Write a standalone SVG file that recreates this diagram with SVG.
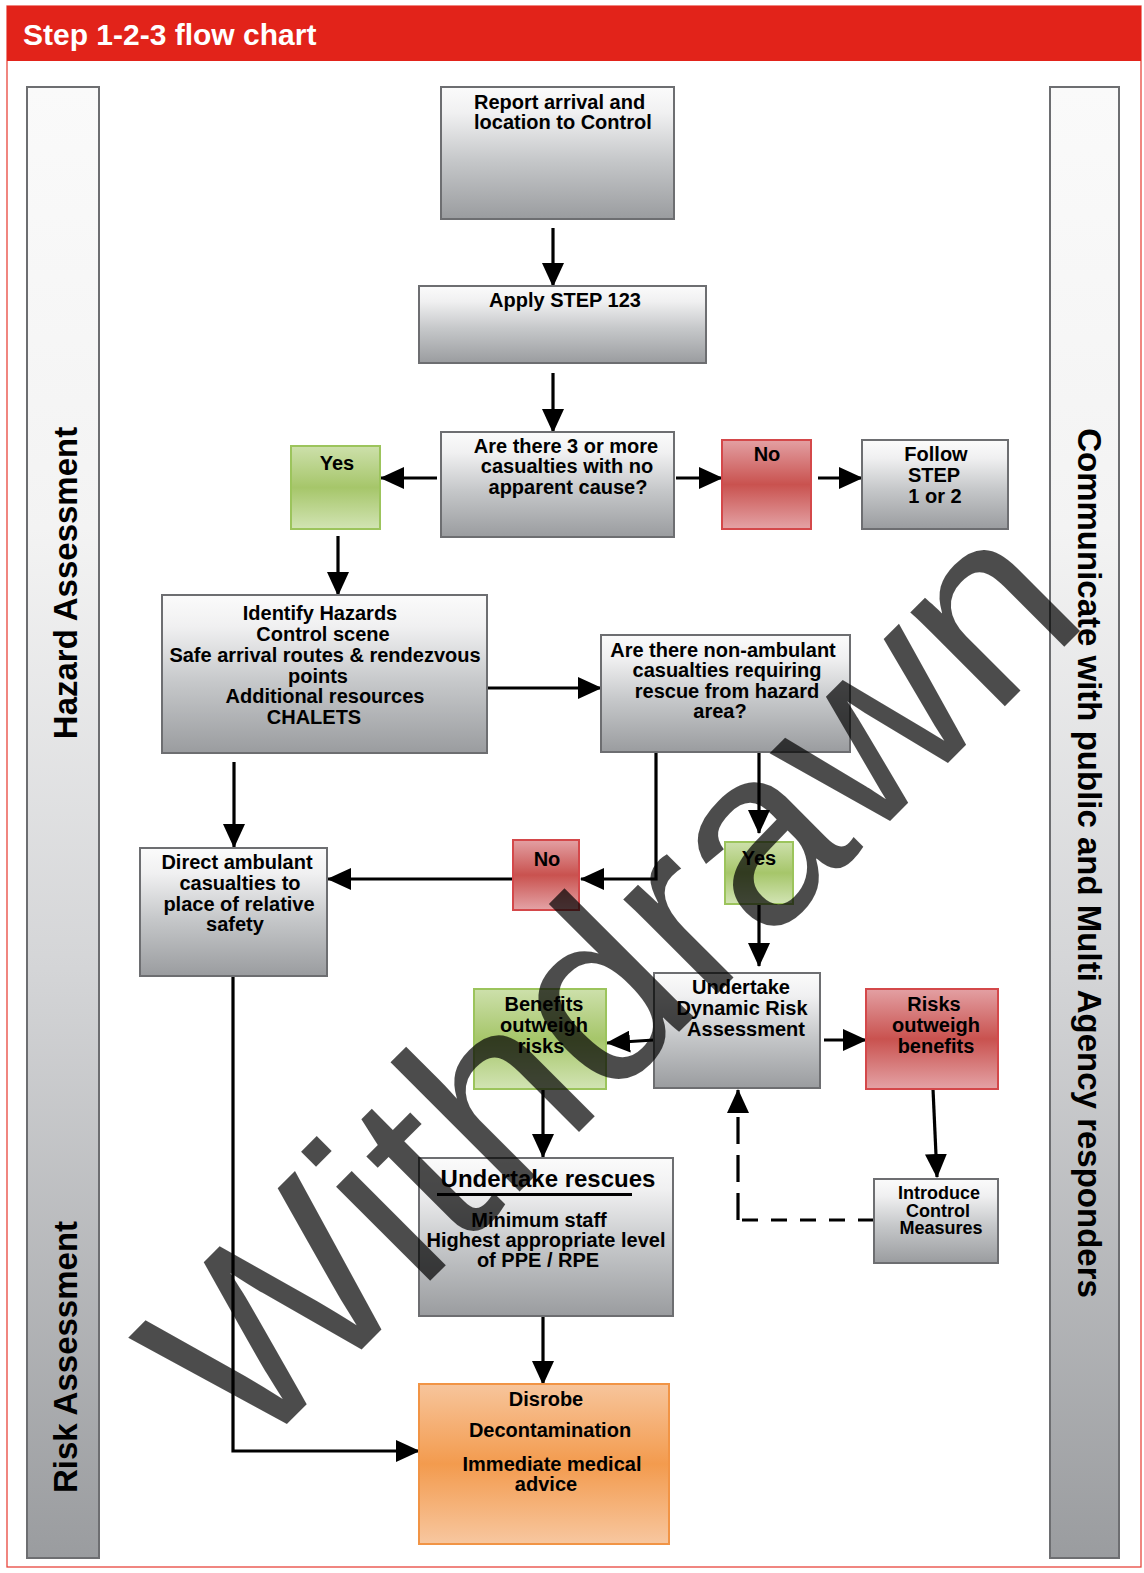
<svg xmlns="http://www.w3.org/2000/svg" width="1144" height="1573" viewBox="0 0 1144 1573">
<defs>
<linearGradient id="gGrey" x1="0" y1="0" x2="0" y2="1">
<stop offset="0" stop-color="#fbfbfb"/><stop offset="0.2" stop-color="#f0f0f1"/><stop offset="0.55" stop-color="#c6c8ca"/><stop offset="1" stop-color="#9a9c9f"/>
</linearGradient>
<linearGradient id="gBar" x1="0" y1="0" x2="0" y2="1">
<stop offset="0" stop-color="#fafafa"/><stop offset="0.3" stop-color="#f3f3f3"/><stop offset="0.6" stop-color="#d4d5d7"/><stop offset="1" stop-color="#9a9c9f"/>
</linearGradient>
<linearGradient id="gGreen" x1="0" y1="0" x2="0" y2="1">
<stop offset="0" stop-color="#cde0ab"/><stop offset="0.5" stop-color="#a6c66a"/><stop offset="1" stop-color="#d2e4b4"/>
</linearGradient>
<linearGradient id="gRed" x1="0" y1="0" x2="0" y2="1">
<stop offset="0" stop-color="#e3a0a3"/><stop offset="0.5" stop-color="#c9524f"/><stop offset="1" stop-color="#e4a3a6"/>
</linearGradient>
<linearGradient id="gOrange" x1="0" y1="0" x2="0" y2="1">
<stop offset="0" stop-color="#f7c59c"/><stop offset="0.5" stop-color="#f39b4e"/><stop offset="1" stop-color="#f7c7a0"/>
</linearGradient>
<marker id="ah" markerUnits="userSpaceOnUse" markerWidth="24" markerHeight="22" viewBox="0 0 24 22" refX="23" refY="11" orient="auto">
<path d="M0,0 L24,11 L0,22 z" fill="#000"/>
</marker>
</defs>
<style>
.t{font-family:"Liberation Sans",Arial,Helvetica,sans-serif;font-weight:bold;font-size:20px;fill:#000;text-anchor:middle}
.side{font-family:"Liberation Sans",Arial,Helvetica,sans-serif;font-weight:bold;font-size:33px;fill:#000;text-anchor:middle}
.grey{fill:url(#gGrey);stroke:#6d6e71;stroke-width:2}
.bar{fill:url(#gBar);stroke:#6d6e71;stroke-width:2}
.green{fill:url(#gGreen);stroke:#9cc45c;stroke-width:2}
.red{fill:url(#gRed);stroke:#d4484a;stroke-width:2}
.orange{fill:url(#gOrange);stroke:#f19445;stroke-width:2}
.c{fill:none;stroke:#000;stroke-width:3.2;marker-end:url(#ah)}
</style>
<rect x="0" y="0" width="1144" height="1573" fill="#fff"/>
<g id="frame">
<rect x="7" y="6" width="1134" height="1561" fill="none" stroke="#e8453c" stroke-width="1.3"/>
<rect x="7" y="6" width="1134" height="55" fill="#e2231a"/>
<text x="23" y="45" style="font-family:'Liberation Sans',Arial,sans-serif;font-weight:bold;font-size:30px;fill:#fff">Step 1-2-3 flow chart</text>
</g>
<g id="bar-left">
<rect class="bar" x="27" y="87" width="72" height="1471"/>
<text class="side" transform="translate(77,583) rotate(-90)">Hazard Assessment</text>
<text class="side" transform="translate(77,1357) rotate(-90)">Risk Assessment</text>
</g>
<g id="bar-right">
<rect class="bar" x="1050" y="87" width="69" height="1471"/>
<text class="side" transform="translate(1078,863) rotate(90)">Communicate with public and Multi Agency responders</text>
</g>
<g id="connectors">
<path class="c" d="M553,228 V286"/>
<path class="c" d="M553,373 V432"/>
<path class="c" d="M437,478 H381"/>
<path class="c" d="M676,478 H722"/>
<path class="c" d="M818,478 H862"/>
<path class="c" d="M338,536 V595"/>
<path class="c" d="M488,688 H601"/>
<path class="c" d="M656,752 V879 H581"/>
<path class="c" d="M512,879 H328"/>
<path class="c" d="M759,752 V833"/>
<path class="c" d="M759,904 V966"/>
<path class="c" d="M234,762 V847"/>
<path class="c" d="M233,976 V1451 H419"/>
<path class="c" d="M654,1040 L607,1043"/>
<path class="c" d="M824,1040 H866"/>
<path class="c" d="M933,1089 L937,1177"/>
<path class="c" d="M543,1089 V1157"/>
<path class="c" d="M543,1316 V1384"/>
<path d="M874,1220 H738" fill="none" stroke="#000" stroke-width="3.2" stroke-dasharray="16,13"/>
<path class="c" d="M738,1220 V1090" stroke-dasharray="27,11"/>
</g>
<g id="n-report">
<rect class="grey" x="441" y="87" width="233" height="132"/>
<text class="t" style="text-anchor:start"><tspan x="474" y="109">Report arrival and</tspan><tspan x="474" y="129">location to Control</tspan></text>
</g>
<g id="n-apply">
<rect class="grey" x="419" y="286" width="287" height="77"/>
<text class="t" x="565" y="307">Apply STEP 123</text>
</g>
<g id="n-q1">
<rect class="grey" x="441" y="432" width="233" height="105"/>
<text class="t"><tspan x="566" y="453">Are there 3 or more</tspan><tspan x="567" y="473">casualties with no</tspan><tspan x="568" y="494">apparent cause?</tspan></text>
</g>
<g id="n-yes1">
<rect class="green" x="291" y="446" width="89" height="83"/>
<text class="t" x="337" y="470">Yes</text>
</g>
<g id="n-no1">
<rect class="red" x="722" y="440" width="89" height="89"/>
<text class="t" x="767" y="461">No</text>
</g>
<g id="n-follow">
<rect class="grey" x="862" y="440" width="146" height="89"/>
<text class="t"><tspan x="936" y="461">Follow</tspan><tspan x="934" y="482">STEP</tspan><tspan x="935" y="503">1 or 2</tspan></text>
</g>
<g id="n-identify">
<rect class="grey" x="162" y="595" width="325" height="158"/>
<text class="t"><tspan x="320" y="620">Identify Hazards</tspan><tspan x="323" y="641">Control scene</tspan><tspan x="325" y="662">Safe arrival routes &amp; rendezvous</tspan><tspan x="318" y="683">points</tspan><tspan x="325" y="703">Additional resources</tspan><tspan x="314" y="724">CHALETS</tspan></text>
</g>
<g id="n-q2">
<rect class="grey" x="601" y="635" width="249" height="117"/>
<text class="t"><tspan x="723" y="657">Are there non-ambulant</tspan><tspan x="727" y="677">casualties requiring</tspan><tspan x="727" y="698">rescue from hazard</tspan><tspan x="720" y="718">area?</tspan></text>
</g>
<g id="n-direct">
<rect class="grey" x="140" y="848" width="187" height="128"/>
<text class="t"><tspan x="237" y="869">Direct ambulant</tspan><tspan x="240" y="890">casualties to</tspan><tspan x="239" y="911">place of relative</tspan><tspan x="235" y="931">safety</tspan></text>
</g>
<g id="n-no2">
<rect class="red" x="513" y="840" width="66" height="70"/>
<text class="t" x="547" y="866">No</text>
</g>
<g id="n-yes2">
<rect class="green" x="725" y="842" width="68" height="62"/>
<text class="t" x="759" y="865">Yes</text>
</g>
<g id="n-dra">
<rect class="grey" x="654" y="973" width="166" height="115"/>
<text class="t"><tspan x="741" y="994">Undertake</tspan><tspan x="742" y="1015">Dynamic Risk</tspan><tspan x="746" y="1036">Assessment</tspan></text>
</g>
<g id="n-benefits">
<rect class="green" x="474" y="989" width="132" height="100"/>
<text class="t"><tspan x="544" y="1011">Benefits</tspan><tspan x="544" y="1032">outweigh</tspan><tspan x="541" y="1053">risks</tspan></text>
</g>
<g id="n-risks">
<rect class="red" x="866" y="989" width="132" height="100"/>
<text class="t"><tspan x="934" y="1011">Risks</tspan><tspan x="936" y="1032">outweigh</tspan><tspan x="936" y="1053">benefits</tspan></text>
</g>
<g id="n-introduce">
<rect class="grey" x="874" y="1179" width="124" height="84"/>
<text class="t" style="font-size:18px"><tspan x="939" y="1199">Introduce</tspan><tspan x="938" y="1217">Control</tspan><tspan x="941" y="1234">Measures</tspan></text>
</g>
<g id="n-rescues">
<rect class="grey" x="419" y="1158" width="254" height="158"/>
<text class="t" x="548" y="1187" style="font-size:24px">Undertake rescues</text>
<line x1="437" y1="1194.5" x2="632" y2="1194.5" stroke="#000" stroke-width="3"/>
<text class="t"><tspan x="539" y="1227">Minimum staff</tspan><tspan x="546" y="1247">Highest appropriate level</tspan><tspan x="538" y="1267">of PPE / RPE</tspan></text>
</g>
<g id="n-disrobe">
<rect class="orange" x="419" y="1384" width="250" height="160"/>
<text class="t"><tspan x="546" y="1406">Disrobe</tspan><tspan x="550" y="1437">Decontamination</tspan><tspan x="552" y="1471">Immediate medical</tspan><tspan x="546" y="1491">advice</tspan></text>
</g>
<g id="watermark">
<text transform="translate(250,1461) rotate(-45)" style="font-family:'Liberation Sans',Arial,Helvetica,sans-serif;font-size:252px;fill:#000;fill-opacity:0.7">Withdrawn</text>
</g>
</svg>
